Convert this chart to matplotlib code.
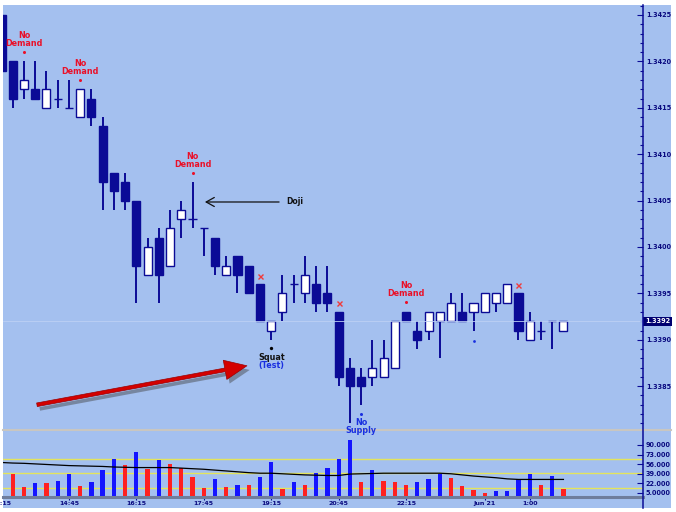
import numpy as np
import matplotlib
matplotlib.use("Agg")
import matplotlib.pyplot as plt
import matplotlib.transforms as mtransforms
import matplotlib.patheffects as pe
from matplotlib.patches import Rectangle, FancyArrowPatch
from matplotlib.lines import Line2D
from matplotlib.ticker import MultipleLocator

# 15 minute bars, the first one is cut by the left edge
opens = [1.3425, 1.3420, 1.3417, 1.3417, 1.3415, 1.3416, 1.3415, 1.3414, 1.3416, 1.3413,
         1.3408, 1.3407, 1.3405, 1.3397, 1.3401, 1.3398, 1.3403, 1.3403, 1.3402, 1.3401,
         1.3397, 1.3399, 1.3398, 1.3396, 1.3391, 1.3393, 1.3396, 1.3395, 1.3396, 1.3395,
         1.3393, 1.3387, 1.3386, 1.3386, 1.3386, 1.3387, 1.3393, 1.3391, 1.3391, 1.3392,
         1.3392, 1.3393, 1.3393, 1.3393, 1.3394, 1.3394, 1.3395, 1.3390, 1.3391, 1.3392,
         1.3391]
highs = [1.3425, 1.3420, 1.3420, 1.3420, 1.3419, 1.3418, 1.3418, 1.3417, 1.3417, 1.3414,
         1.3408, 1.3408, 1.3405, 1.3401, 1.3402, 1.3404, 1.3405, 1.3407, 1.3402, 1.3401,
         1.3399, 1.3399, 1.3398, 1.3396, 1.3392, 1.3397, 1.3397, 1.3399, 1.3398, 1.3398,
         1.3393, 1.3388, 1.3387, 1.3390, 1.3390, 1.3392, 1.3393, 1.3392, 1.3393, 1.3393,
         1.3395, 1.3395, 1.3394, 1.3395, 1.3395, 1.3396, 1.3395, 1.3393, 1.3392, 1.3392,
         1.3392]
lows = [1.3419, 1.3415, 1.3416, 1.3416, 1.3415, 1.3415, 1.3415, 1.3414, 1.3413, 1.3404,
        1.3404, 1.3404, 1.3394, 1.3397, 1.3394, 1.3398, 1.3401, 1.3402, 1.3399, 1.3397,
        1.3397, 1.3395, 1.3395, 1.3392, 1.3390, 1.3392, 1.3394, 1.3394, 1.3393, 1.3393,
        1.3385, 1.3381, 1.3383, 1.3385, 1.3386, 1.3387, 1.3392, 1.3389, 1.3390, 1.3388,
        1.3392, 1.3392, 1.3391, 1.3393, 1.3393, 1.3394, 1.3390, 1.3390, 1.3390, 1.3389,
        1.3391]
closes = [1.3419, 1.3416, 1.3418, 1.3416, 1.3417, 1.3416, 1.3415, 1.3417, 1.3414, 1.3407,
          1.3406, 1.3405, 1.3398, 1.3400, 1.3397, 1.3402, 1.3404, 1.3403, 1.3402, 1.3398,
          1.3398, 1.3397, 1.3395, 1.3392, 1.3392, 1.3395, 1.3396, 1.3397, 1.3394, 1.3394,
          1.3386, 1.3385, 1.3385, 1.3387, 1.3388, 1.3392, 1.3392, 1.3390, 1.3393, 1.3393,
          1.3394, 1.3392, 1.3394, 1.3395, 1.3395, 1.3396, 1.3391, 1.3392, 1.3391, 1.3392,
          1.3392]

# volume starts with the second bar
volumes = [38.6, 15, 22, 22, 27, 38.6, 18, 24, 45.7, 66,
           55, 77, 47.5, 63, 56, 48.7, 33, 14, 29, 15.6,
           19, 19, 33, 60, 12, 24, 19, 41, 50, 65,
           99, 25, 45.7, 25.6, 24.4, 18.6, 24.4, 29, 38.6, 31,
           18, 9.7, 5, 8, 9, 29.7, 38.6, 19, 35, 12]
vol_colors = "rrbrbbrbbbrbrbrrrrbrbrbbrbrbbbbrbrrrbbbrrrrbbbbrbr"
vol_avg = [59, 58, 57.5, 56.5, 55.5, 54.5, 53.5, 53, 52.5, 52,
           51, 50.5, 50, 50, 50, 50, 49, 48, 47, 45.5,
           44, 42.5, 41, 40, 40, 39, 38, 37, 36.5, 36,
           36, 38.5, 39, 39.5, 40, 40, 40, 40, 40, 40,
           39, 37, 35, 33.5, 32, 30, 29, 29, 29, 29,
           29]

tick_labels = ["13:15", "14:45", "16:15", "17:45", "19:15", "20:45", "22:15", "Jun 21", "1:00"]
tick_bars = [0, 6, 12, 18, 24, 30, 36, 43, 47]

price_ticks = [1.3385, 1.3390, 1.3395, 1.3400, 1.3405, 1.3410, 1.3415, 1.3420, 1.3425]
vol_ticks = [5, 22, 39, 56, 73, 90]
vol_levels = [14, 40, 65]
last_price = 1.3392

no_demand_bars = [2, 7, 17, 36]
cross_bars = [23, 30, 46]
squat_bar = 24
no_supply_bar = 32
dot_bar = 42
doji_bar = 17

BG = "#a4c0ef"
NAVY = "#0b0b96"
RED = "#ea1028"
BLUE = "#1a30e0"
LABEL = "#0a0a80"

W, H = 676, 512
fig = plt.figure(figsize=(W / 100, H / 100), dpi=100)
fig.patch.set_facecolor("white")


def fx(px):
    return px / W


def fy(px):
    return 1 - px / H


bg = Rectangle((fx(3), fy(508)), fx(671) - fx(3), fy(5) - fy(508),
               transform=fig.transFigure, facecolor=BG, edgecolor="none", zorder=-5)
fig.patches.append(bg)

ax = fig.add_axes([fx(3), fy(430), fx(643) - fx(3), fy(5) - fy(430)])
axv = fig.add_axes([fx(3), fy(497), fx(643) - fx(3), fy(430) - fy(497)])
for a in (ax, axv):
    a.set_facecolor("none")
    for s in a.spines.values():
        s.set_visible(False)
    a.set_xlim(0.137, 57.08)

# ---- price panel
o, h, l, c = map(np.array, (opens, highs, lows, closes))
x = np.arange(len(o))
ax.vlines(x, l, h, color=NAVY, lw=1.4, zorder=2)
body_col = np.where(c > o, "white", NAVY)
ax.bar(x, np.abs(c - o), bottom=np.minimum(o, c), width=0.72, color=body_col,
       edgecolor=NAVY, linewidth=1.0, zorder=3)
ax.axhline(last_price, color="#bcd0f4", lw=0.6, zorder=4)
ax.set_ylim(1.3425 - 415 / 92800, 1.3425 + 10 / 92800)

# separator between the panels, under the texts
ax.add_line(Line2D([fx(3), fx(671)], [fy(430), fy(430)], transform=fig.transFigure,
                   color="#c9c6c0", lw=1.5, clip_on=False, zorder=1))

ax.yaxis.tick_right()
ax.set_yticks(price_ticks)
ax.set_yticklabels([f"{p:.4f}" for p in price_ticks])
ax.yaxis.set_minor_locator(MultipleLocator(0.0001))
ax.tick_params(axis="y", which="major", direction="in", length=4, width=0.8,
               colors=NAVY, labelcolor=LABEL, labelsize=4.7, pad=2)
ax.tick_params(axis="y", which="minor", direction="in", length=2.5, width=0.8, colors=NAVY)
ax.tick_params(axis="x", bottom=False, labelbottom=False)
for t in ax.get_yticklabels():
    t.set_fontweight("bold")

ax.text(1.003, last_price, "1.3392", transform=mtransforms.blended_transform_factory(ax.transAxes, ax.transData),
        ha="left", va="center", color="white", fontsize=4.7, fontweight="bold",
        bbox=dict(boxstyle="square,pad=0.25", facecolor="#000070", edgecolor="none"), clip_on=False)


def off(dy_px):
    return mtransforms.offset_copy(ax.transData, fig=fig, y=dy_px, units="dots")


fs = 5.8
for b in no_demand_bars:
    ax.plot([b], [h[b]], marker="o", ms=2.2, color=RED, mew=0, transform=off(9.5), clip_on=False)
    ax.text(b, h[b], "Demand", transform=off(18), ha="center", va="center",
            color=RED, fontsize=fs, fontweight="bold")
    ax.text(b, h[b], "No", transform=off(26), ha="center", va="center",
            color=RED, fontsize=fs, fontweight="bold")

for b in cross_bars:
    ax.plot([b], [h[b]], marker="x", ms=3.6, mew=1.0, color="#f03a3a", transform=off(8.5))

ax.plot([squat_bar], [l[squat_bar]], marker="o", ms=2.4, color="black", mew=0, transform=off(-8))
ax.text(squat_bar, l[squat_bar], "Squat", transform=off(-17.5), ha="center", va="center",
        color="#111111", fontsize=fs, fontweight="bold")
ax.text(squat_bar, l[squat_bar], "(Test)", transform=off(-25.5), ha="center", va="center",
        color=BLUE, fontsize=fs, fontweight="bold")

ax.plot([no_supply_bar], [l[no_supply_bar]], marker="o", ms=2.2, color=BLUE, mew=0, transform=off(-9))
ax.text(no_supply_bar, l[no_supply_bar], "No", transform=off(-17.5), ha="center", va="center",
        color=BLUE, fontsize=fs, fontweight="bold", clip_on=False, zorder=6)
ax.text(no_supply_bar, l[no_supply_bar], "Supply", transform=off(-25.5), ha="center", va="center",
        color=BLUE, fontsize=fs, fontweight="bold", clip_on=False, zorder=6)

ax.plot([dot_bar], [l[dot_bar]], marker="o", ms=2.0, color=BLUE, mew=0, transform=off(-10))

# Doji pointer
doji_y = 1.340485
ax.add_patch(FancyArrowPatch((doji_bar + 7.7, doji_y), (doji_bar + 1.1, doji_y),
                             arrowstyle="->,head_length=0.45,head_width=0.25", mutation_scale=13,
                             color="#111111", lw=0.9, shrinkA=0, shrinkB=0, zorder=5))
ax.text(doji_bar + 8.3, doji_y, "Doji", ha="left", va="center", color="#111111",
        fontsize=5.5, fontweight="bold")

# red arrow with shadow
red_arrow = FancyArrowPatch((3.16, 1.33830), (21.84, 1.33872),
                            arrowstyle="simple,head_length=16,head_width=14,tail_width=2.6",
                            mutation_scale=1, facecolor="#d40000", edgecolor="#9a0000", lw=0.5,
                            shrinkA=0, shrinkB=0, zorder=6)
red_arrow.set_path_effects([pe.SimplePatchShadow(offset=(2, -3), shadow_rgbFace="#404040", alpha=0.45),
                            pe.Normal()])
ax.add_patch(red_arrow)

# ---- volume panel
vx = x[1:]
axv.bar(vx, volumes, width=0.38, color=["#ff2020" if k == "r" else "#1414ff" for k in vol_colors],
        zorder=3)
axv.plot(x, vol_avg, color="black", lw=0.9, zorder=4)
for v in vol_levels:
    axv.axhline(v, color="#e4e45c", lw=1.0, zorder=1)
axv.set_ylim(-2.1, 116.5)
axv.yaxis.tick_right()
axv.set_yticks(vol_ticks)
axv.set_yticklabels([f"{v:#.5g}" for v in vol_ticks])
axv.tick_params(axis="y", direction="in", length=4, width=0.8, colors=NAVY,
                labelcolor=LABEL, labelsize=4.7, pad=2)
for t in axv.get_yticklabels():
    t.set_fontweight("bold")
axv.spines["bottom"].set_visible(True)
axv.spines["bottom"].set_color("#6f7d9c")
axv.spines["bottom"].set_linewidth(2.2)
axv.set_xticks(tick_bars[1:])
axv.tick_params(axis="x", direction="out", length=2, width=0.8, colors=NAVY, labelbottom=False)
xt = mtransforms.blended_transform_factory(axv.transData, axv.transAxes)
for pos, lab in zip(tick_bars, tick_labels):
    t = axv.text(pos, -0.1, lab, transform=xt, ha="center", va="center", color=LABEL,
                 fontsize=4.5, fontweight="bold")
    t.set_clip_path(bg)

# right axis line
fig.lines.append(Line2D([fx(643), fx(643)], [fy(5), fy(508)], transform=fig.transFigure,
                        color=NAVY, lw=1.1))

plt.savefig("out.png", dpi=100, facecolor=fig.get_facecolor())
